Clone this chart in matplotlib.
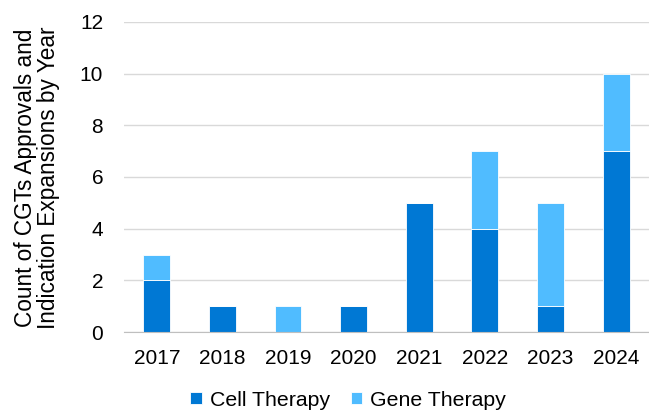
import numpy as np
import matplotlib
matplotlib.use("Agg")
import matplotlib.pyplot as plt

plt.rcParams['font.family'] = ['Liberation Sans', 'DejaVu Sans']

years = ['2017', '2018', '2019', '2020', '2021', '2022', '2023', '2024']
cell_therapy = [2, 1, 0, 1, 5, 4, 1, 7]
gene_therapy = [1, 0, 1, 0, 0, 3, 4, 3]

dark_blue = '#0078D4'
light_blue = '#50BCFF'

fig = plt.figure(figsize=(6.49, 4.12), dpi=100)
ax = fig.add_axes([0.191, 0.194, 0.809, 0.753])

x = np.arange(len(years))
w = 0.41
ax.bar(x, cell_therapy, w, color=dark_blue, edgecolor='white', linewidth=0.6,
       label='Cell Therapy', zorder=3)
ax.bar(x, gene_therapy, w, bottom=cell_therapy, color=light_blue,
       edgecolor='white', linewidth=0.6, label='Gene Therapy', zorder=3)

ax.set_ylim(0, 12)
ax.set_yticks(range(0, 13, 2))
ax.set_xlim(-0.5, len(years) - 0.5)
ax.set_xticks(x)
ax.set_xticklabels(years)
ax.tick_params(length=0, labelsize=15, colors='black')
ax.tick_params(axis='x', pad=12)
ax.tick_params(axis='y', pad=15)
ax.grid(axis='y', color='#D9D9D9', linewidth=1, zorder=0)
for s in ['top', 'right', 'left']:
    ax.spines[s].set_visible(False)
ax.spines['bottom'].set_color('#BFBFBF')
ax.spines['bottom'].set_zorder(4)

# y label placed by hand, it sits further left than the default
fig.text(37 / 649, 1 - 178 / 412,
         'Count of CGTs Approvals and\nIndication Expansions by Year',
         rotation=90, ha='center', va='center', fontsize=16.3, linespacing=1.05)

handles, labels = ax.get_legend_handles_labels()
fig.legend(handles, labels, loc='center', bbox_to_anchor=(348 / 649, 1 - 400 / 412),
           ncol=2, frameon=False, fontsize=15.3, handlelength=0.55, handleheight=0.55,
           handletextpad=0.35, columnspacing=1.0)

fig.savefig('out.png', dpi=100)
